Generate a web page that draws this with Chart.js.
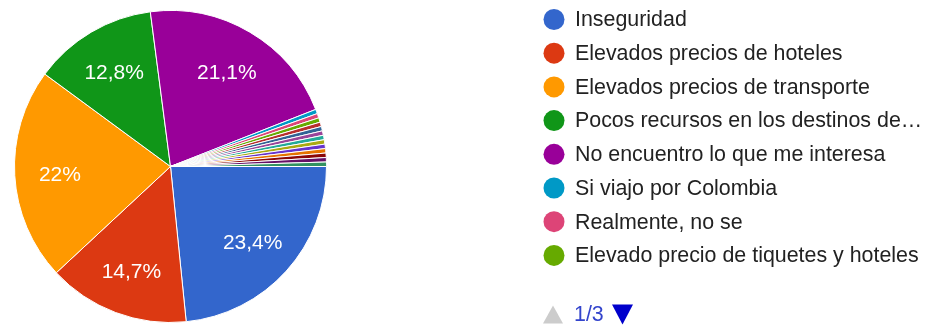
<!DOCTYPE html>
<html>
<head>
<meta charset="utf-8">
<script src="https://cdn.jsdelivr.net/npm/chart.js@4/dist/chart.umd.min.js"></script>
<style>
  html, body { margin: 0; padding: 0; background: #ffffff; }
  #wrap { width: 928px; height: 328px; }
</style>
</head>
<body>
<div id="wrap"><canvas id="chart" width="928" height="328"></canvas></div>
<script>
// Survey answers (responses per option)
const labels = [
  "Inseguridad",
  "Elevados precios de hoteles",
  "Elevados precios de transporte",
  "Pocos recursos en los destinos de turismo",
  "No encuentro lo que me interesa",
  "Si viajo por Colombia",
  "Realmente, no se",
  "Elevado precio de tiquetes y hoteles",
  "Falta de tiempo",
  "Falta de información",
  "Prefiero viajar al exterior",
  "Mal estado de las vías",
  "Falta de dinero",
  "Clima",
  "Mala atención",
  "No me gusta viajar",
  "Trabajo",
  "Otros"
];
const responses = [51, 32, 48, 28, 46, 1, 1, 1, 1, 1, 1, 1, 1, 1, 1, 1, 1, 1];

// Google-style palette
const palette = [
  "#3366cc", "#dc3912", "#ff9900", "#109618", "#990099", "#0099c6",
  "#dd4477", "#66aa00", "#b82e2e", "#316395", "#994499", "#22aa99",
  "#aaaa11", "#6633cc", "#e67300", "#8b0707", "#651067", "#329262"
];

const legendPageSize = 8;
const legendPage = 1;
const FONT = '"Liberation Sans", Arial, sans-serif';

const total = responses.reduce((a, b) => a + b, 0);
function pctText(v) {
  let s = (v / total * 100).toFixed(1);
  if (s.endsWith(".0")) s = s.slice(0, -2);
  return s.replace(".", ",") + "%";
}

// Percentage labels inside the large slices
const sliceLabels = {
  id: "sliceLabels",
  afterDatasetsDraw(chart) {
    const ctx = chart.ctx;
    const meta = chart.getDatasetMeta(0);
    ctx.save();
    ctx.font = "21px " + FONT;
    ctx.fillStyle = "#ffffff";
    ctx.textAlign = "center";
    ctx.textBaseline = "middle";
    meta.data.forEach((arc, i) => {
      const v = responses[i];
      if (v / total < 0.05) return;
      const mid = (arc.startAngle + arc.endAngle) / 2;
      const r = arc.outerRadius * 0.71;
      ctx.fillText(pctText(v), arc.x + Math.cos(mid) * r, arc.y + Math.sin(mid) * r + 2);
    });
    ctx.restore();
  }
};

// Paged legend on the right
const pagedLegend = {
  id: "pagedLegend",
  afterDraw(chart) {
    const ctx = chart.ctx;
    const x0 = 554, y0 = 19.5, step = 33.7;
    const start = (legendPage - 1) * legendPageSize;
    const items = labels.slice(start, start + legendPageSize);
    ctx.save();
    ctx.font = "21.4px " + FONT;
    ctx.textBaseline = "middle";
    ctx.textAlign = "left";
    const maxW = 350;
    items.forEach((lab, k) => {
      const y = y0 + k * step;
      ctx.fillStyle = palette[start + k];
      ctx.beginPath();
      ctx.arc(x0, y, 10.5, 0, Math.PI * 2);
      ctx.fill();
      let text = lab;
      if (ctx.measureText(text).width > maxW) {
        while (text.length > 1 && ctx.measureText(text + "…").width > maxW) text = text.slice(0, -1);
        text = text.trimEnd() + "…";
      }
      ctx.fillStyle = "#222222";
      ctx.fillText(text, 575, y + 1);
    });

    // pager
    const pages = Math.ceil(labels.length / legendPageSize);
    const py = 314.5;
    ctx.fillStyle = "#cccccc";
    ctx.beginPath();
    ctx.moveTo(543, py + 9);
    ctx.lineTo(563, py + 9);
    ctx.lineTo(553, py - 9);
    ctx.closePath();
    ctx.fill();
    ctx.fillStyle = "#3344cc";
    ctx.fillText(legendPage + "/" + pages, 574, py + 1);
    ctx.fillStyle = "#0000cc";
    ctx.beginPath();
    ctx.moveTo(612, py - 10);
    ctx.lineTo(633, py - 10);
    ctx.lineTo(622.5, py + 10);
    ctx.closePath();
    ctx.fill();
    ctx.restore();
  }
};

new Chart(document.getElementById("chart"), {
  type: "pie",
  data: {
    labels: labels,
    datasets: [{
      data: responses,
      backgroundColor: palette,
      borderColor: "#ffffff",
      borderWidth: 1
    }]
  },
  options: {
    responsive: false,
    devicePixelRatio: 1,
    animation: false,
    rotation: 90,
    layout: { padding: { left: 13, top: 10, right: 600, bottom: 5 } },
    plugins: {
      legend: { display: false },
      tooltip: { enabled: false }
    }
  },
  plugins: [sliceLabels, pagedLegend]
});
</script>
</body>
</html>
